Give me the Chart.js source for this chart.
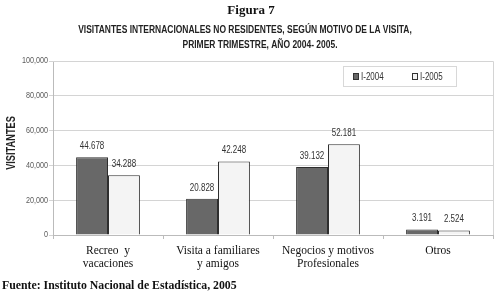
<!DOCTYPE html>
<html>
<head>
<meta charset="utf-8">
<script src="https://cdn.jsdelivr.net/npm/chart.js@4/dist/chart.umd.min.js"></script>
<style>
html,body{margin:0;padding:0;background:#fff;}
#wrap{position:relative;width:502px;height:294px;}
</style>
</head>
<body>
<div id="wrap"><canvas id="c" width="502" height="294"></canvas></div>
<script>
const categories = [["Recreo  y", "vacaciones"], ["Visita a familiares", "y amigos"], ["Negocios y motivos", "Profesionales"], ["Otros"]];
const seriesNames = ["I-2004", "I-2005"];
const values2004 = [44678, 20828, 39132, 3191];
const values2005 = [34288, 42248, 52181, 2524];
const yTicks = [0, 20000, 40000, 60000, 80000, 100000];

const sans = "'Liberation Sans', Arial, sans-serif";
const serif = "'Liberation Serif', 'Times New Roman', serif";

function fmtDot(v){ return String(v).replace(/\B(?=(\d{3})+(?!\d))/g, "."); }
function fmtComma(v){ return String(v).replace(/\B(?=(\d{3})+(?!\d))/g, ","); }

// draw text horizontally condensed (narrow face look)
function narrowText(ctx, text, x, y, font, sx, align, color){
  ctx.save();
  ctx.font = font;
  ctx.fillStyle = color;
  ctx.textBaseline = 'middle';
  ctx.textAlign = align;
  ctx.translate(x, y);
  ctx.scale(sx, 1);
  ctx.fillText(text, 0, 0);
  ctx.restore();
}

const decor = {
  id: 'decor',
  beforeDraw(chart){
    const ctx = chart.ctx;
    ctx.save();
    ctx.fillStyle = '#fff';
    ctx.fillRect(0,0,chart.width,chart.height);
    ctx.restore();
  },
  afterDatasetsDraw(chart){
    const ctx = chart.ctx;
    chart.data.datasets.forEach((ds, i) => {
      const meta = chart.getDatasetMeta(i);
      meta.data.forEach((bar, j) => {
        narrowText(ctx, fmtDot(ds.data[j]), bar.x, bar.y - 11, "10px " + sans, 0.8, 'center', '#333');
      });
    });
  },
  afterDraw(chart){
    const ctx = chart.ctx, a = chart.chartArea;
    ctx.save();
    // plot border (top/right)
    ctx.strokeStyle = '#d4d4d4';
    ctx.lineWidth = 1;
    ctx.beginPath();
    ctx.moveTo(a.left, a.top + 0.5);
    ctx.lineTo(a.right + 0.5, a.top + 0.5);
    ctx.lineTo(a.right + 0.5, a.bottom);
    ctx.stroke();
    ctx.restore();
    // y tick labels from the library's scale
    const ys = chart.scales.y;
    ys.ticks.forEach(t => {
      narrowText(ctx, fmtComma(t.value), 48, ys.getPixelForValue(t.value), "9px " + sans, 0.8, 'right', '#5a5a5a');
    });
    // titles
    ctx.save();
    ctx.fillStyle = '#111';
    ctx.textAlign = 'center';
    ctx.textBaseline = 'middle';
    ctx.font = "bold 13px " + serif;
    ctx.fillText('Figura 7', 251, 11);
    ctx.restore();
    narrowText(ctx, 'VISITANTES INTERNACIONALES NO RESIDENTES, SEGÚN MOTIVO DE LA VISITA,', 245, 30, "bold 11.5px " + sans, 0.735, 'center', '#222');
    narrowText(ctx, 'PRIMER TRIMESTRE, AÑO 2004- 2005.', 260, 45, "bold 11.5px " + sans, 0.735, 'center', '#222');
    // y title
    ctx.save();
    ctx.translate(12, 143);
    ctx.rotate(-Math.PI/2);
    ctx.font = "bold 12px " + sans;
    ctx.fillStyle = '#222';
    ctx.textAlign = 'center';
    ctx.textBaseline = 'middle';
    ctx.scale(0.77, 1);
    ctx.fillText('VISITANTES', 0, 0);
    ctx.restore();
    // legend
    ctx.save();
    ctx.fillStyle = '#fff';
    ctx.fillRect(343.5, 66.5, 113, 20);
    ctx.strokeStyle = '#d8d8d8';
    ctx.strokeRect(343.5, 66.5, 113, 20);
    ctx.restore();
    const lx = [353, 412];
    chart.data.datasets.forEach((ds, i) => {
      ctx.save();
      ctx.fillStyle = ds.backgroundColor;
      ctx.fillRect(lx[i] + 0.5, 73.5, 5, 6);
      ctx.strokeStyle = '#333';
      ctx.strokeRect(lx[i] + 0.5, 73.5, 5, 6);
      ctx.restore();
      narrowText(ctx, ds.label, lx[i] + 8, 77, "10px " + sans, 0.8, 'left', '#333');
    });
    // source
    ctx.save();
    ctx.fillStyle = '#111';
    ctx.font = "bold 11.8px " + serif;
    ctx.textAlign = 'left';
    ctx.textBaseline = 'middle';
    ctx.fillText('Fuente: Instituto Nacional de Estadística, 2005', 2, 286);
    ctx.restore();
  }
};

new Chart(document.getElementById('c'), {
  type: 'bar',
  data: {
    labels: categories,
    datasets: [
      { label: seriesNames[0], data: values2004, backgroundColor: '#686868', borderColor: '#2e2e2e', borderWidth: 1, barPercentage: 1.0, categoryPercentage: 0.58 },
      { label: seriesNames[1], data: values2005, backgroundColor: '#f4f4f4', borderColor: '#2e2e2e', borderWidth: 1, barPercentage: 1.0, categoryPercentage: 0.58 }
    ]
  },
  plugins: [decor],
  options: {
    responsive: false,
    animation: false,
    layout: { padding: { left: 0, top: 61, right: 9, bottom: 14 } },
    plugins: { legend: { display: false }, title: { display: false }, tooltip: { enabled: false } },
    scales: {
      x: {
        offset: true,
        grid: { offset: true, drawOnChartArea: false, drawTicks: true, tickLength: 4, color: '#bbb' },
        border: { color: '#bbb' },
        ticks: { color: '#111', font: { family: serif, size: 11.5, lineHeight: 1.17 }, padding: 5, maxRotation: 0, autoSkip: false },
        afterFit(scale){ scale.height = 45; }
      },
      y: {
        min: 0, max: 100000,
        afterBuildTicks(scale){ scale.ticks = yTicks.map(v => ({ value: v })); },
        grid: { color: '#d4d4d4', tickLength: 4, drawTicks: true },
        border: { color: '#bbb' },
        ticks: { display: false },
        afterFit(scale){ scale.width = 53; }
      }
    }
  }
});
</script>
</body>
</html>
